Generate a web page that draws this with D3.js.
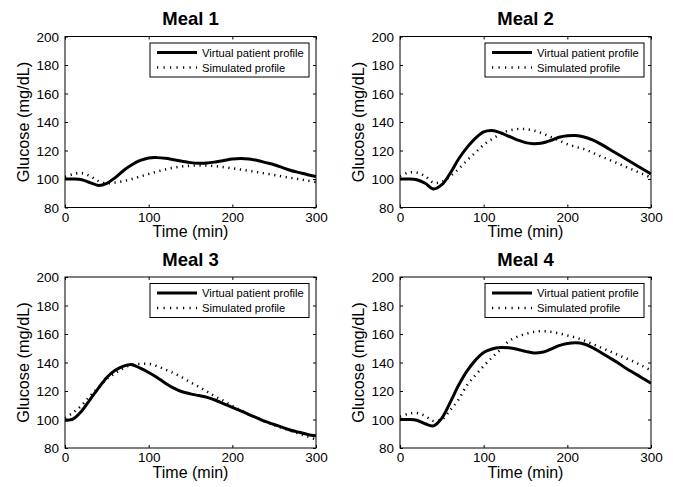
<!DOCTYPE html>
<html>
<head>
<meta charset="utf-8">
<script src="https://cdn.jsdelivr.net/npm/d3@7"></script>
<style>
body { margin: 0; background: #fff; }
svg { font-family: "Liberation Sans", Arial, sans-serif; }
</style>
</head>
<body>
<div class="visHolder"></div>
<script>
var width = 673, height = 487;

var time = [0,10,20,30,40,50,60,70,80,90,100,110,120,130,140,150,160,170,180,190,200,210,220,230,240,250,260,270,280,290,300];
var titles = ['Meal 1', 'Meal 2', 'Meal 3', 'Meal 4'];
var xTicks = [0, 100, 200, 300];
var yTicks = [80, 100, 120, 140, 160, 180, 200];
var legendLabels = ['Virtual patient profile', 'Simulated profile'];

var meal1Virtual = [100,100,99.5,97.5,95.5,97,101,106,110,113,114.8,115,114.5,113.5,112.5,111.5,111,111.2,112,113,114,114.3,114,113,111.5,110,108,106,104.5,103,101.8];
var meal1Sim = [101.5,103.5,104,102,98.5,97,97.5,98.5,100,101.8,103.5,105.2,106.7,107.9,108.8,109.3,109.5,109.4,109,108.3,107.5,106.6,105.7,104.8,103.8,102.8,101.8,100.8,99.8,98.8,97.8];

var meal2Virtual = [100,100,99.5,97,93,96,104,114,122,128.5,133,134,132.5,130,127.5,125.5,124.7,125.2,127,129.3,130.4,130.5,129.5,127.5,124.5,121,117.5,114,110.5,107,103.5];
var meal2Sim = [102,104.5,104.5,102,97.5,98,102,107,113,118.5,124,128,131.5,134,135,135,134,132,129.5,127,124.5,122.5,121,118.5,116,113.5,111,108.5,106,103.5,101];

var meal3Virtual = [99.5,100.5,106,114,122,129.5,134.5,137.5,138.5,136,133,129.5,125.5,122,119.5,118,116.8,115.5,113.5,111,108.5,106,103.5,101,98.5,96.5,94.5,92.5,91,89.5,88.5];
var meal3Sim = [101,105,110,116.5,122.5,128.5,132.5,136,138.5,139,139,137.5,135,132.5,129.5,126,123,119.5,116,113,109.5,106.5,103.5,101,98.5,96,94,92,90,88,86];

var meal4Virtual = [100,100,99.5,97,95.5,101,112,124,134,141.5,147,149.5,150.5,150.3,149.3,147.8,146.7,147.2,149.3,151.8,153.3,153.8,153,150.5,147,143.5,140,136,132.5,129,125.5];
var meal4Sim = [102,104,104.5,102.5,99,100,106.5,114,124,131,137.5,143.5,149,155,158,160,161.5,162,161.5,160.5,159,157.5,155.5,153,150.5,148,145.5,143,140.5,137.5,134.5];

var virtualSeries = [meal1Virtual, meal2Virtual, meal3Virtual, meal4Virtual];
var simSeries = [meal1Sim, meal2Sim, meal3Sim, meal4Sim];

// panel placement (left, top) of each axes box
var panels = [
  {x: 65, y: 36.5},
  {x: 400, y: 36.5},
  {x: 65, y: 277},
  {x: 400, y: 277}
];
var pw = 251, ph = 171;

var svg = d3.select('.visHolder').append('svg')
  .attr('width', width)
  .attr('height', height);

var xScale = d3.scaleLinear().domain([0, 300]).range([0, pw]);
var yScale = d3.scaleLinear().domain([80, 200]).range([ph, 0]);

var line = d3.line()
  .x(function(d) { return xScale(d[0]); })
  .y(function(d) { return yScale(d[1]); })
  .curve(d3.curveCatmullRom);

panels.forEach(function(p, k) {
  var g = svg.append('g')
    .attr('transform', 'translate(' + p.x + ',' + p.y + ')');

  var clipId = 'clip' + k;
  g.append('clipPath').attr('id', clipId)
    .append('rect').attr('width', pw).attr('height', ph);

  // axes with inward ticks, mirrored on the opposite side
  var xAxis = d3.axisBottom(xScale).tickValues(xTicks).tickSizeInner(-3).tickSizeOuter(0).tickPadding(4.5);
  var yAxis = d3.axisLeft(yScale).tickValues(yTicks).tickSizeInner(-3).tickSizeOuter(0).tickPadding(6);

  var xg = g.append('g').attr('transform', 'translate(0,' + ph + ')').call(xAxis);
  var yg = g.append('g').call(yAxis);
  g.append('g').call(d3.axisTop(xScale).tickValues(xTicks).tickSizeInner(-3).tickSizeOuter(0).tickFormat(''));
  g.append('g').attr('transform', 'translate(' + pw + ',0)')
    .call(d3.axisRight(yScale).tickValues(yTicks).tickSizeInner(-3).tickSizeOuter(0).tickFormat(''));

  g.selectAll('.domain').remove();
  g.selectAll('.tick line').attr('stroke', '#000');
  [xg, yg].forEach(function(a) {
    a.selectAll('text')
      .attr('fill', '#000')
      .style('font-size', '13.5px')
      .style('font-family', '"Liberation Sans", Arial, sans-serif');
  });
  yg.selectAll('text').attr('dy', '0.36em');

  g.append('rect')
    .attr('width', pw)
    .attr('height', ph)
    .attr('fill', 'none')
    .attr('stroke', '#000')
    .attr('stroke-width', 1);

  var virt = time.map(function(t, i) { return [t, virtualSeries[k][i]]; });
  var sim = time.map(function(t, i) { return [t, simSeries[k][i]]; });

  g.append('path')
    .datum(sim)
    .attr('clip-path', 'url(#' + clipId + ')')
    .attr('d', line)
    .attr('fill', 'none')
    .attr('stroke', '#000')
    .attr('stroke-width', 2.5)
    .attr('stroke-dasharray', '1.2,4.6');

  g.append('path')
    .datum(virt)
    .attr('clip-path', 'url(#' + clipId + ')')
    .attr('d', line)
    .attr('fill', 'none')
    .attr('stroke', '#000')
    .attr('stroke-width', 3);

  // titles and axis labels
  g.append('text')
    .attr('x', pw / 2)
    .attr('y', -11.5)
    .attr('text-anchor', 'middle')
    .style('font-size', '18.5px')
    .style('font-weight', 'bold')
    .text(titles[k]);

  g.append('text')
    .attr('x', pw / 2)
    .attr('y', ph + 29.5)
    .attr('text-anchor', 'middle')
    .style('font-size', '16px')
    .text('Time (min)');

  g.append('text')
    .attr('transform', 'rotate(-90)')
    .attr('x', -ph / 2)
    .attr('y', -36)
    .attr('text-anchor', 'middle')
    .style('font-size', '16.3px')
    .text('Glucose (mg/dL)');

  // legend
  var lg = g.append('g').attr('transform', 'translate(' + (pw - 166) + ',6.5)');
  lg.append('rect')
    .attr('width', 159)
    .attr('height', 34)
    .attr('fill', '#fff')
    .attr('stroke', '#000')
    .attr('stroke-width', 1);
  lg.append('line')
    .attr('x1', 7).attr('x2', 47)
    .attr('y1', 9.5).attr('y2', 9.5)
    .attr('stroke', '#000').attr('stroke-width', 3);
  lg.append('line')
    .attr('x1', 7).attr('x2', 47)
    .attr('y1', 24.5).attr('y2', 24.5)
    .attr('stroke', '#000').attr('stroke-width', 2.5)
    .attr('stroke-dasharray', '1.2,5.3');
  legendLabels.forEach(function(label, i) {
    lg.append('text')
      .attr('x', 52)
      .attr('y', 13.5 + i * 15)
      .style('font-size', '11.2px')
      .text(label);
  });
});
</script>
</body>
</html>
